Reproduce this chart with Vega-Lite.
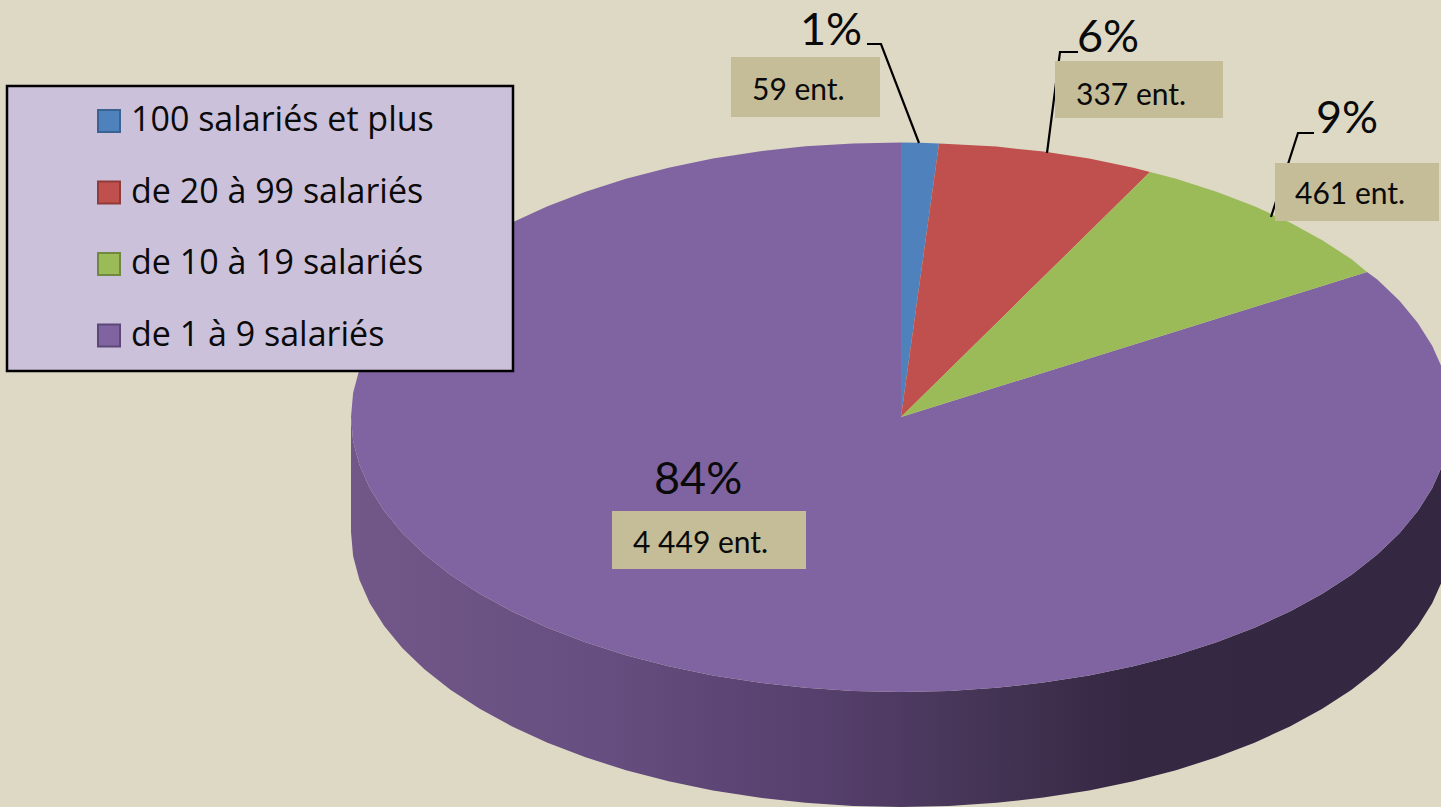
{
"$schema":"https://vega.github.io/schema/vega-lite/v6.json",
"width":1441,"height":807,"padding":0,
"autosize":{"type":"fit","contains":"padding"},
"background":"#ded9c4",
"config":{"view":{"stroke":null}},
"datasets":{
"sideBottom":[{"x":351,"y":417,"y2":532},{"x":353.1,"y":441,"y2":556},{"x":359.4,"y":464.8,"y2":579.8},{"x":369.8,"y":488.2,"y2":603.2},{"x":384.2,"y":511.1,"y2":626.1},{"x":402.5,"y":533.2,"y2":648.2},{"x":424.7,"y":554.5,"y2":669.5},{"x":450.4,"y":574.7,"y2":689.7},{"x":479.7,"y":593.8,"y2":708.8},{"x":512.1,"y":611.5,"y2":726.5},{"x":547.5,"y":627.7,"y2":742.7},{"x":585.5,"y":642.3,"y2":757.3},{"x":626,"y":655.2,"y2":770.2},{"x":668.6,"y":666.2,"y2":781.2},{"x":712.9,"y":675.4,"y2":790.4},{"x":758.6,"y":682.6,"y2":797.6},{"x":805.5,"y":687.8,"y2":802.8},{"x":853,"y":691,"y2":806},{"x":901,"y":692,"y2":807},{"x":949,"y":691,"y2":806},{"x":996.5,"y":687.8,"y2":802.8},{"x":1043.4,"y":682.6,"y2":797.6},{"x":1089.1,"y":675.4,"y2":790.4},{"x":1133.4,"y":666.2,"y2":781.2},{"x":1176,"y":655.2,"y2":770.2},{"x":1216.5,"y":642.3,"y2":757.3},{"x":1254.5,"y":627.7,"y2":742.7},{"x":1289.9,"y":611.5,"y2":726.5},{"x":1322.3,"y":593.8,"y2":708.8},{"x":1351.6,"y":574.7,"y2":689.7},{"x":1377.3,"y":554.5,"y2":669.5},{"x":1399.5,"y":533.2,"y2":648.2},{"x":1417.8,"y":511.1,"y2":626.1},{"x":1432.2,"y":488.2,"y2":603.2},{"x":1442.6,"y":464.8,"y2":579.8},{"x":1448.9,"y":441,"y2":556},{"x":1451,"y":417,"y2":532}],
"sectors":[
{"t":"de 1 à 9 salariés","i":0,"x":901,"y":417},{"t":"de 1 à 9 salariés","i":1,"x":1367,"y":272},{"t":"de 1 à 9 salariés","i":2,"x":1377.3,"y":279.5},{"t":"de 1 à 9 salariés","i":3,"x":1399.5,"y":300.8},{"t":"de 1 à 9 salariés","i":4,"x":1417.8,"y":322.9},{"t":"de 1 à 9 salariés","i":5,"x":1432.2,"y":345.8},{"t":"de 1 à 9 salariés","i":6,"x":1442.6,"y":369.2},{"t":"de 1 à 9 salariés","i":7,"x":1448.9,"y":393},{"t":"de 1 à 9 salariés","i":8,"x":1451,"y":417},{"t":"de 1 à 9 salariés","i":9,"x":1448.9,"y":441},{"t":"de 1 à 9 salariés","i":10,"x":1442.6,"y":464.8},{"t":"de 1 à 9 salariés","i":11,"x":1432.2,"y":488.2},{"t":"de 1 à 9 salariés","i":12,"x":1417.8,"y":511.1},{"t":"de 1 à 9 salariés","i":13,"x":1399.5,"y":533.2},{"t":"de 1 à 9 salariés","i":14,"x":1377.3,"y":554.5},{"t":"de 1 à 9 salariés","i":15,"x":1351.6,"y":574.7},{"t":"de 1 à 9 salariés","i":16,"x":1322.3,"y":593.8},{"t":"de 1 à 9 salariés","i":17,"x":1289.9,"y":611.5},{"t":"de 1 à 9 salariés","i":18,"x":1254.5,"y":627.7},{"t":"de 1 à 9 salariés","i":19,"x":1216.5,"y":642.3},{"t":"de 1 à 9 salariés","i":20,"x":1176,"y":655.2},{"t":"de 1 à 9 salariés","i":21,"x":1133.4,"y":666.2},{"t":"de 1 à 9 salariés","i":22,"x":1089.1,"y":675.4},{"t":"de 1 à 9 salariés","i":23,"x":1043.4,"y":682.6},{"t":"de 1 à 9 salariés","i":24,"x":996.5,"y":687.8},{"t":"de 1 à 9 salariés","i":25,"x":949,"y":691},{"t":"de 1 à 9 salariés","i":26,"x":901,"y":692},{"t":"de 1 à 9 salariés","i":27,"x":853,"y":691},{"t":"de 1 à 9 salariés","i":28,"x":805.5,"y":687.8},{"t":"de 1 à 9 salariés","i":29,"x":758.6,"y":682.6},{"t":"de 1 à 9 salariés","i":30,"x":712.9,"y":675.4},{"t":"de 1 à 9 salariés","i":31,"x":668.6,"y":666.2},{"t":"de 1 à 9 salariés","i":32,"x":626,"y":655.2},{"t":"de 1 à 9 salariés","i":33,"x":585.5,"y":642.3},{"t":"de 1 à 9 salariés","i":34,"x":547.5,"y":627.7},{"t":"de 1 à 9 salariés","i":35,"x":512.1,"y":611.5},{"t":"de 1 à 9 salariés","i":36,"x":479.7,"y":593.8},{"t":"de 1 à 9 salariés","i":37,"x":450.4,"y":574.7},{"t":"de 1 à 9 salariés","i":38,"x":424.7,"y":554.5},{"t":"de 1 à 9 salariés","i":39,"x":402.5,"y":533.2},{"t":"de 1 à 9 salariés","i":40,"x":384.2,"y":511.1},{"t":"de 1 à 9 salariés","i":41,"x":369.8,"y":488.2},{"t":"de 1 à 9 salariés","i":42,"x":359.4,"y":464.8},{"t":"de 1 à 9 salariés","i":43,"x":353.1,"y":441},{"t":"de 1 à 9 salariés","i":44,"x":351,"y":417},{"t":"de 1 à 9 salariés","i":45,"x":353.1,"y":393},{"t":"de 1 à 9 salariés","i":46,"x":359.4,"y":369.2},{"t":"de 1 à 9 salariés","i":47,"x":369.8,"y":345.8},{"t":"de 1 à 9 salariés","i":48,"x":384.2,"y":322.9},{"t":"de 1 à 9 salariés","i":49,"x":402.5,"y":300.8},{"t":"de 1 à 9 salariés","i":50,"x":424.7,"y":279.5},{"t":"de 1 à 9 salariés","i":51,"x":450.4,"y":259.3},{"t":"de 1 à 9 salariés","i":52,"x":479.7,"y":240.2},{"t":"de 1 à 9 salariés","i":53,"x":512.1,"y":222.5},{"t":"de 1 à 9 salariés","i":54,"x":547.5,"y":206.3},{"t":"de 1 à 9 salariés","i":55,"x":585.5,"y":191.7},{"t":"de 1 à 9 salariés","i":56,"x":626,"y":178.8},{"t":"de 1 à 9 salariés","i":57,"x":668.6,"y":167.8},{"t":"de 1 à 9 salariés","i":58,"x":712.9,"y":158.6},{"t":"de 1 à 9 salariés","i":59,"x":758.6,"y":151.4},{"t":"de 1 à 9 salariés","i":60,"x":805.5,"y":146.2},{"t":"de 1 à 9 salariés","i":61,"x":853,"y":143.5},{"t":"de 1 à 9 salariés","i":62,"x":901,"y":142.5},
{"t":"100 salariés et plus","i":0,"x":901,"y":417},{"t":"100 salariés et plus","i":1,"x":901,"y":142.5},{"t":"100 salariés et plus","i":2,"x":920,"y":142.8},{"t":"100 salariés et plus","i":3,"x":939,"y":143.4},
{"t":"de 20 à 99 salariés","i":0,"x":901,"y":417},{"t":"de 20 à 99 salariés","i":1,"x":939,"y":143.4},{"t":"de 20 à 99 salariés","i":2,"x":949,"y":143.9},{"t":"de 20 à 99 salariés","i":3,"x":996.5,"y":146.6},{"t":"de 20 à 99 salariés","i":4,"x":1043.4,"y":151.6},{"t":"de 20 à 99 salariés","i":5,"x":1089.1,"y":158.6},{"t":"de 20 à 99 salariés","i":6,"x":1133.4,"y":167.8},{"t":"de 20 à 99 salariés","i":7,"x":1150,"y":172},
{"t":"de 10 à 19 salariés","i":0,"x":901,"y":417},{"t":"de 10 à 19 salariés","i":1,"x":1150,"y":172},{"t":"de 10 à 19 salariés","i":2,"x":1176,"y":178.8},{"t":"de 10 à 19 salariés","i":3,"x":1216.5,"y":191.7},{"t":"de 10 à 19 salariés","i":4,"x":1254.5,"y":206.3},{"t":"de 10 à 19 salariés","i":5,"x":1289.9,"y":222.5},{"t":"de 10 à 19 salariés","i":6,"x":1322.3,"y":240.2},{"t":"de 10 à 19 salariés","i":7,"x":1351.6,"y":259.3},{"t":"de 10 à 19 salariés","i":8,"x":1367,"y":272}
],
"leaders":[
{"g":"a","i":0,"x":867,"y":44},{"g":"a","i":1,"x":881,"y":44},{"g":"a","i":2,"x":919,"y":143},
{"g":"b","i":0,"x":1078,"y":52},{"g":"b","i":1,"x":1060,"y":52},{"g":"b","i":2,"x":1047,"y":153},
{"g":"c","i":0,"x":1314,"y":133},{"g":"c","i":1,"x":1298,"y":133},{"g":"c","i":2,"x":1271,"y":217}
],
"boxes":[
{"x":731,"x2":880,"y":57,"y2":117,"label":"59 ent.","lx":752,"ly":100,"pct":"1%","px":800,"py":45},
{"x":1055,"x2":1223,"y":61,"y2":118,"label":"337 ent.","lx":1076,"ly":105,"pct":"6%","px":1077,"py":52},
{"x":1275,"x2":1439,"y":163,"y2":221,"label":"461 ent.","lx":1295,"ly":204,"pct":"9%","px":1316,"py":133},
{"x":612,"x2":806,"y":511,"y2":569,"label":"4 449 ent.","lx":633,"ly":553,"pct":"84%","px":654,"py":494}
],
"legendBox":[{"x":7,"x2":513,"y":86,"y2":371}],
"tranches":[{"t":"100 salariés et plus","x":901,"y":417},{"t":"de 20 à 99 salariés","x":901,"y":417},{"t":"de 10 à 19 salariés","x":901,"y":417},{"t":"de 1 à 9 salariés","x":901,"y":417}]
},
"data":{"name":"sectors"},
"layer":[
{"data":{"name":"sideBottom"},
 "mark":{"type":"area","clip":true,"color":{"gradient":"linear","x1":0,"y1":0,"x2":1,"y2":0,"stops":[{"offset":0,"color":"#725889"},{"offset":0.23,"color":"#664e80"},{"offset":0.445,"color":"#543e6a"},{"offset":0.59,"color":"#433353"},{"offset":0.71,"color":"#352843"},{"offset":1,"color":"#332742"}]}},
 "encoding":{"x":{"field":"x","type":"quantitative","scale":{"domain":[0,1441],"nice":false,"zero":false},"axis":null},"y":{"field":"y","type":"quantitative","scale":{"domain":[807,0],"nice":false,"zero":false},"axis":null},"y2":{"field":"y2"}}},
{"mark":{"type":"line","filled":true,"clip":true,"interpolate":"linear","strokeJoin":"round"},
 "encoding":{"x":{"field":"x","type":"quantitative"},"y":{"field":"y","type":"quantitative"},"order":{"field":"i"},
  "fill":{"field":"t","type":"nominal","scale":{"domain":["100 salariés et plus","de 20 à 99 salariés","de 10 à 19 salariés","de 1 à 9 salariés"],"range":["#4f81bd","#c0504d","#9bbb59","#8064a2"]}},
  "detail":{"field":"t"}}},
{"data":{"name":"leaders"},"mark":{"type":"line","color":"#000000","strokeWidth":2.2},
 "encoding":{"x":{"field":"x","type":"quantitative"},"y":{"field":"y","type":"quantitative"},"order":{"field":"i"},"detail":{"field":"g"}}},
{"data":{"name":"boxes"},"mark":{"type":"rect","color":"#c4bd97"},
 "encoding":{"x":{"field":"x","type":"quantitative"},"x2":{"field":"x2"},"y":{"field":"y","type":"quantitative"},"y2":{"field":"y2"}}},
{"data":{"name":"boxes"},"mark":{"type":"text","font":"Lato","fontSize":30,"align":"left","baseline":"alphabetic","color":"#0a0a0a"},
 "encoding":{"x":{"field":"lx","type":"quantitative"},"y":{"field":"ly","type":"quantitative"},"text":{"field":"label"}}},
{"data":{"name":"boxes"},"mark":{"type":"text","font":"Lato","fontSize":45,"align":"left","baseline":"alphabetic","color":"#0a0a0a"},
 "encoding":{"x":{"field":"px","type":"quantitative"},"y":{"field":"py","type":"quantitative"},"text":{"field":"pct"}}},
{"data":{"name":"legendBox"},"mark":{"type":"rect","fill":"#ccc1da","stroke":"#000000","strokeWidth":2.5},
 "encoding":{"x":{"field":"x","type":"quantitative"},"x2":{"field":"x2"},"y":{"field":"y","type":"quantitative"},"y2":{"field":"y2"}}},
{"data":{"name":"tranches"},"mark":{"type":"point","shape":"square","filled":true,"size":0},
 "encoding":{"x":{"field":"x","type":"quantitative"},"y":{"field":"y","type":"quantitative"},
  "fill":{"field":"t","type":"nominal","scale":{"domain":["100 salariés et plus","de 20 à 99 salariés","de 10 à 19 salariés","de 1 à 9 salariés"],"range":["#4f81bd","#c0504d","#9bbb59","#8064a2"]},
   "legend":{"title":null,"orient":"none","legendX":92,"legendY":104,"zindex":1,"padding":0,"symbolType":"square","symbolSize":484,"symbolStrokeWidth":2,"symbolOpacity":1,"labelFont":"Open Sans","labelFontSize":34,"labelColor":"#0a0a0a","labelOffset":5,"rowPadding":37.5,"labelLimit":400}},
  "stroke":{"field":"t","type":"nominal","scale":{"domain":["100 salariés et plus","de 20 à 99 salariés","de 10 à 19 salariés","de 1 à 9 salariés"],"range":["#3a6391","#8f3b39","#71893f","#5c4776"]},"legend":{"title":null,"orient":"none","legendX":92,"legendY":104,"zindex":1,"padding":0,"symbolType":"square","symbolSize":484,"symbolStrokeWidth":2,"symbolOpacity":1,"labelFont":"Open Sans","labelFontSize":34,"labelColor":"#0a0a0a","labelOffset":5,"rowPadding":37.5,"labelLimit":400}}}}
]
}
